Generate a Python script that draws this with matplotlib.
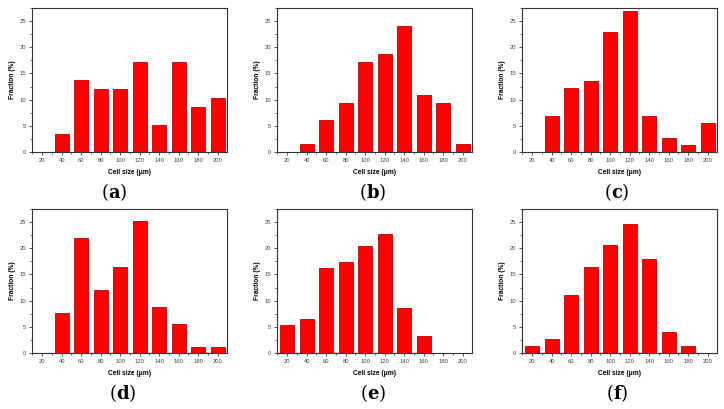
import matplotlib.pyplot as plt
from matplotlib.ticker import MultipleLocator

plt.rcParams['mathtext.fontset'] = 'dejavuserif'

# Cell size bins (um)
cell_sizes = [20, 40, 60, 80, 100, 120, 140, 160, 180, 200]

# Fraction (%) per panel
frac_a = [0, 3.5, 13.8, 12.1, 12.1, 17.2, 5.2, 17.2, 8.6, 10.3]
frac_b = [0, 1.6, 6.2, 9.4, 17.2, 18.8, 24.0, 10.9, 9.4, 1.6]
frac_c = [0, 6.8, 12.2, 13.6, 23.0, 26.9, 6.8, 2.7, 1.4, 5.5]
frac_d = [0, 7.7, 21.9, 12.1, 16.5, 25.3, 8.8, 5.5, 1.1, 1.1]
frac_e = [5.4, 6.5, 16.2, 17.3, 20.5, 22.7, 8.6, 3.3, 0, 0]
frac_f = [1.4, 2.7, 11.0, 16.5, 20.6, 24.6, 17.9, 4.1, 1.4, 0]

panel_labels = ["a", "b", "c", "d", "e", "f"]
panel_data = [frac_a, frac_b, frac_c, frac_d, frac_e, frac_f]

W, H = 724, 409
fig = plt.figure(figsize=(W / 100, H / 100), dpi=100)

# axes boxes in pixels
lefts = [32, 277, 522]
tops = [8, 209]
ax_w, ax_h = 195, 144
label_x = [114, 373, 617, 123, 373, 617]  # panel letter centres (px)

for i, (lab, vals) in enumerate(zip(panel_labels, panel_data)):
    row, col = divmod(i, 3)
    l, t = lefts[col], tops[row]
    ax = fig.add_axes([l / W, 1 - (t + ax_h) / H, ax_w / W, ax_h / H])
    ax.bar(cell_sizes, vals, width=14, color="#ff0000", edgecolor="#c00000", linewidth=0.6)
    ax.set_xlim(9.5, 209.5)
    ax.set_ylim(0, 27.5)
    ax.set_xticks(cell_sizes)
    ax.set_yticks([0, 5, 10, 15, 20, 25])
    ax.xaxis.set_minor_locator(MultipleLocator(10))
    ax.yaxis.set_minor_locator(MultipleLocator(2.5))
    ax.tick_params(which="major", direction="out", length=2.5, width=0.6,
                   labelsize=4.2, colors="#333333", labelcolor="#444444", pad=2)
    ax.tick_params(which="minor", direction="out", length=1.5, width=0.5, colors="#333333")
    for tl in ax.get_xticklabels() + ax.get_yticklabels():
        tl.set_family("Liberation Sans")
    for s in ax.spines.values():
        s.set_linewidth(0.8)
        s.set_color("#333333")
    ax.set_xlabel("Cell size (μm)", fontsize=4.8, fontweight="bold", family="Liberation Sans",
                  labelpad=4)
    ax.set_ylabel("Fraction (%)", fontsize=4.8, fontweight="bold", family="Liberation Sans",
                  labelpad=2)
    # panel letter under each chart
    fig.text(label_x[i] / W, 1 - (t + 184) / H, r"($\mathbf{%s}$)" % lab,
             fontsize=13, family="DejaVu Serif", ha="center", va="center")

fig.savefig("out.png", dpi=100)
